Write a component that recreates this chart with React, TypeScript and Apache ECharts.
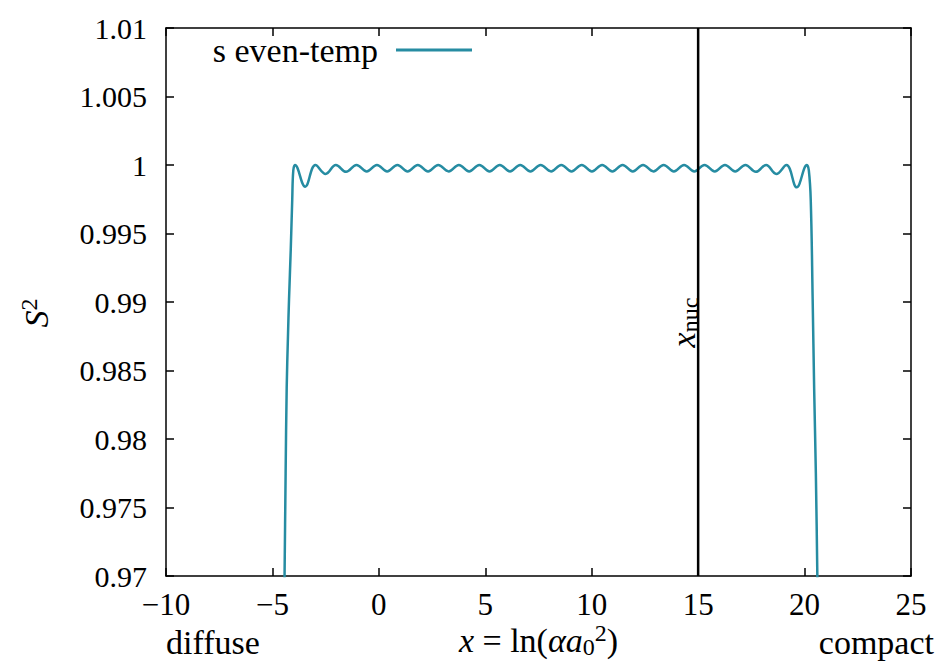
import React, { useEffect, useRef } from 'react';
import * as echarts from 'echarts';

const FONT = '"Liberation Serif", "Times New Roman", serif';
const LINE_COLOR = '#268ca2';

const seriesName = 's even-temp';
const xTicks = [-10, -5, 0, 5, 10, 15, 20, 25];
const yTicks = [0.97, 0.975, 0.98, 0.985, 0.99, 0.995, 1.0, 1.005, 1.01];
const xNuc = 15;

// s even-temp curve (x, S^2)
const curveX = [
  -4.46, -4.43, -4.38, -4.33, -4.27, -4.22, -4.14, -4.07, -4.02, -3.94,
  -3.46, -2.98, -2.50, -2.02, -1.54, -1.05, -0.57, -0.09,
  0.39, 0.87, 1.35, 1.83, 2.31, 2.79, 3.28, 3.76,
  4.24, 4.72, 5.20, 5.68, 6.16, 6.64, 7.12, 7.60,
  8.09, 8.57, 9.05, 9.53, 10.01, 10.49, 10.97, 11.45,
  11.93, 12.41, 12.90, 13.38, 13.86, 14.34, 14.82, 15.30,
  15.78, 16.26, 16.74, 17.22, 17.71, 18.19, 18.67, 19.15,
  19.63, 20.11, 20.20, 20.29, 20.38, 20.45, 20.53, 20.60, 20.63,
];
const curveY = [
  0.966, 0.970, 0.9775, 0.9837, 0.9875, 0.9902, 0.9938, 0.99745, 0.9996, 1.0,
  0.99842, 1.0, 0.99935, 1.0, 0.9995, 1.0, 0.99953, 1.0,
  0.99953, 1.0, 0.99953, 1.0, 0.99953, 1.0, 0.99953, 1.0,
  0.99953, 1.0, 0.99953, 1.0, 0.99953, 1.0, 0.99953, 1.0,
  0.99953, 1.0, 0.99953, 1.0, 0.99953, 1.0, 0.99953, 1.0,
  0.99953, 1.0, 0.99953, 1.0, 0.99953, 1.0, 0.99953, 1.0,
  0.99953, 1.0, 0.99953, 1.0, 0.9995, 1.0, 0.99935, 1.0,
  0.99837, 1.0, 0.9996, 0.99745, 0.9902, 0.9837, 0.9775, 0.970, 0.966,
];

const fmtX = (v: number) => (v < 0 ? '\u2212' + Math.abs(v) : String(v));
const fmtY = (v: number) => String(Math.round(v * 1000) / 1000);

export default function App() {
  const ref = useRef<HTMLDivElement>(null);
  useEffect(() => {
    if (!ref.current) return;
    const chart = echarts.init(ref.current, undefined, { renderer: 'svg' });
    const axisLine = { show: true, onZero: false, lineStyle: { color: '#000', width: 1.5 } };
    const axisTick = { show: true, inside: true, length: 8, lineStyle: { color: '#000', width: 1.5 } };
    const xMin = xTicks[0];
    const xMax = xTicks[xTicks.length - 1];
    const yMin = yTicks[0];
    const yMax = yTicks[yTicks.length - 1];
    chart.setOption({
      animation: false,
      grid: { left: 166, right: 25, top: 28, bottom: 87, containLabel: false },
      xAxis: [
        {
          type: 'value', min: xMin, max: xMax, interval: 5, position: 'bottom',
          axisLine, axisTick,
          axisLabel: { fontFamily: FONT, fontSize: 31, color: '#000', margin: 13, formatter: fmtX },
          splitLine: { show: false },
        },
        {
          type: 'value', min: xMin, max: xMax, interval: 5, position: 'top',
          axisLine, axisTick, axisLabel: { show: false }, splitLine: { show: false },
        },
      ],
      yAxis: [
        {
          type: 'value', min: yMin, max: yMax, interval: 0.005, position: 'left',
          axisLine, axisTick,
          axisLabel: { fontFamily: FONT, fontSize: 30, color: '#000', margin: 19, formatter: fmtY },
          splitLine: { show: false },
        },
        {
          type: 'value', min: yMin, max: yMax, interval: 0.005, position: 'right',
          axisLine, axisTick, axisLabel: { show: false }, splitLine: { show: false },
        },
      ],
      legend: {
        data: [seriesName],
        align: 'right',
        right: 459,
        top: 28,
        itemWidth: 76,
        itemHeight: 3,
        icon: 'rect',
        textStyle: { fontFamily: FONT, fontSize: 34, color: '#000', padding: [0, 13, 0, 0] },
      },
      series: [
        {
          name: seriesName,
          type: 'line',
          xAxisIndex: 0,
          yAxisIndex: 0,
          data: curveX.map((x, i) => [x, curveY[i]]),
          symbol: 'none',
          showSymbol: false,
          smooth: 0.4,
          clip: true,
          lineStyle: { color: LINE_COLOR, width: 2.5 },
          itemStyle: { color: LINE_COLOR },
        },
        {
          name: 'xnuc',
          type: 'line',
          xAxisIndex: 0,
          yAxisIndex: 0,
          data: [[xNuc, yMin], [xNuc, yMax]],
          symbol: 'none',
          lineStyle: { color: '#000', width: 2.5 },
          itemStyle: { color: '#000' },
        },
      ],
    });

    const pNuc = chart.convertToPixel({ xAxisIndex: 0, yAxisIndex: 0 }, [xNuc, 0.9885]) as number[];
    const pL = chart.convertToPixel({ xAxisIndex: 0, yAxisIndex: 0 }, [xMin, yMin]) as number[];
    const pR = chart.convertToPixel({ xAxisIndex: 0, yAxisIndex: 0 }, [xMax, yMin]) as number[];
    const pYmid = chart.convertToPixel({ xAxisIndex: 0, yAxisIndex: 0 }, [xMin, 0.9892]) as number[];
    const baseY = pL[1] + 66;
    const rich = {
      i: { fontFamily: FONT, fontSize: 34, fontStyle: 'italic', lineHeight: 38, verticalAlign: 'middle' },
      n: { fontFamily: FONT, fontSize: 34, lineHeight: 38, verticalAlign: 'middle' },
      sub: { fontFamily: FONT, fontSize: 24, lineHeight: 22, verticalAlign: 'bottom' },
      sup: { fontFamily: FONT, fontSize: 24, lineHeight: 16, verticalAlign: 'top' },
    };
    chart.setOption({
      graphic: [
        {
          type: 'text', x: pL[0], y: baseY,
          style: { text: 'diffuse', font: `34px ${FONT}`, fill: '#000', align: 'left', verticalAlign: 'middle' },
        },
        {
          type: 'text', x: pR[0] + 23, y: baseY,
          style: { text: 'compact', font: `34px ${FONT}`, fill: '#000', align: 'right', verticalAlign: 'middle' },
        },
        {
          type: 'text', x: (pL[0] + pR[0]) / 2, y: baseY - 2,
          style: {
            text: '{i|x}{n| = ln(}{i|αa}{sub|0}{sup|2}{n|)}',
            rich, fill: '#000', align: 'center', verticalAlign: 'middle',
          },
        },
        {
          type: 'text', x: 36, y: pYmid[1], rotation: Math.PI / 2,
          style: {
            text: '{i|S}{sup|2}', rich, fill: '#000', align: 'center', verticalAlign: 'middle',
          },
        },
        {
          type: 'text', x: pNuc[0] - 15, y: pNuc[1], rotation: Math.PI / 2,
          style: {
            text: '{i|x}{sub|nuc}', rich, fill: '#000', align: 'center', verticalAlign: 'middle',
          },
        },
      ],
    });
    return () => chart.dispose();
  }, []);
  return <div ref={ref} style={{ position: 'absolute', left: 0, top: 0, width: 936, height: 663 }} />;
}
